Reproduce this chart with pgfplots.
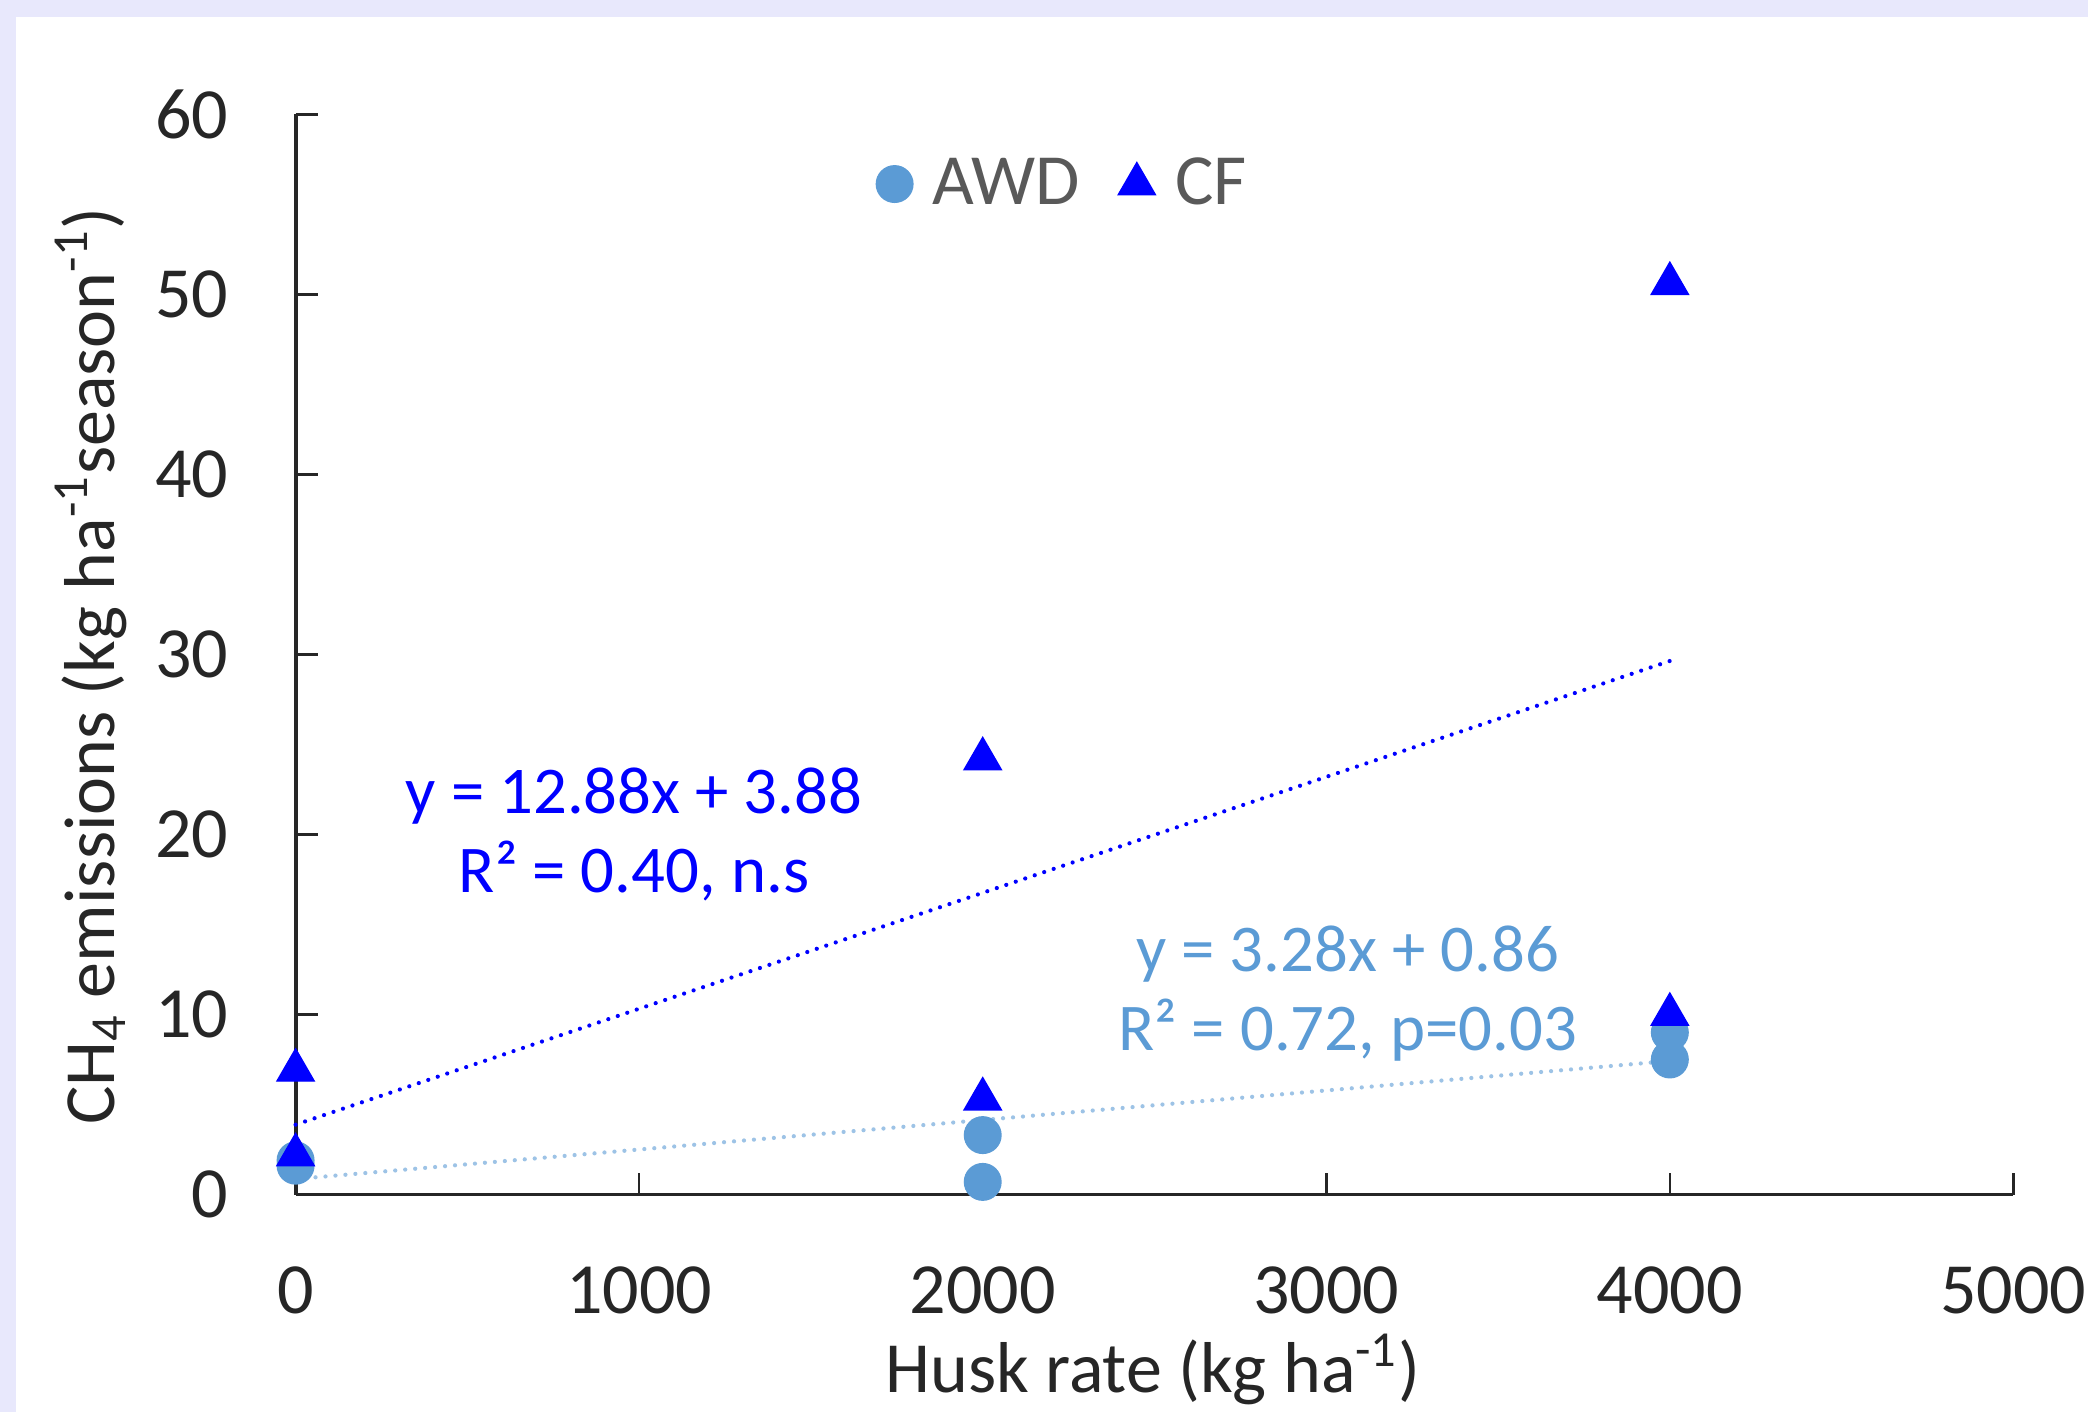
\documentclass[border=0pt]{standalone}
\usepackage{pgfplots}
\pgfplotsset{compat=1.18}
\usepackage{fontspec}
\setmainfont{Carlito}

\definecolor{awd}{HTML}{5B9BD5}
\definecolor{awdtrend}{HTML}{9DC3E6}
\definecolor{cf}{HTML}{0000FF}
\definecolor{panel}{HTML}{E8E8FC}
\definecolor{txt}{HTML}{262626}
\definecolor{legtxt}{HTML}{595959}

\begin{document}
\begin{tikzpicture}
% page background and white plot panel
\path[use as bounding box, fill=panel] (-2.956,-2.175) rectangle (17.924,11.945);
\fill[white] (-2.796,-2.175) rectangle (17.924,11.775);

\begin{axis}[
    at={(0,0)}, anchor=south west,
    scale only axis,
    width=17.178cm, height=10.8cm,
    xmin=0, xmax=5000,
    ymin=0, ymax=60,
    axis x line*=bottom,
    axis y line*=left,
    axis line style={txt, line width=1.1pt},
    xtick={0,1000,2000,3000,4000,5000},
    ytick={0,10,20,30,40,50,60},
    tick align=inside,
    major tick length=0.22cm,
    tick style={txt, line width=0.7pt},
    scaled ticks=false,
    /pgf/number format/1000 sep={},
    /pgf/number format/assume math mode=true,
    tick label style={font=\fontsize{20.5}{24}\selectfont, text=txt},
    xticklabel style={yshift=-0.6cm},
    yticklabel style={xshift=-0.55cm},
    xlabel={Husk rate (kg ha\textsuperscript{-1})},
    ylabel={CH\textsubscript{4} emissions (kg ha\textsuperscript{-1}season\textsuperscript{-1})},
    label style={font=\fontsize{20.5}{24}\selectfont, text=txt},
    xlabel style={at={(axis description cs:0.499,-0.162)}, anchor=center},
    ylabel style={at={(axis description cs:-0.119,0.489)}, anchor=center},
    legend style={
        at={(axis description cs:0.448,0.9356)}, anchor=center,
        draw=none, fill=none,
        font=\fontsize{20.5}{24}\selectfont, text=legtxt,
        legend columns=2,
        /tikz/every odd column/.append style={column sep=0.13cm},
        /tikz/every even column/.append style={column sep=0.31cm},
    },
    clip=false,
]

% AWD observations
\addplot[only marks, mark=*, mark size=5.2pt, color=awd, mark options={draw=awd, fill=awd}]
    coordinates {(0,1.6)(0,1.9)(2000,3.3)(2000,0.7)(4000,9.0)(4000,7.5)};
\addlegendentry{AWD}

% CF observations
\addplot[only marks, mark=triangle*, mark size=6.1pt, color=cf, mark options={draw=cf, fill=cf}]
    coordinates {(0,6.9)(0,2.2)(2000,24.2)(2000,5.3)(4000,50.6)(4000,10.0)};
\addlegendentry{CF}

% linear trend lines
\addplot[color=awdtrend, line width=1.2pt, line cap=round, dash pattern=on 0pt off 0.1cm, forget plot]
    coordinates {(0,0.86)(4000,7.42)};
\addplot[color=cf, line width=1.2pt, line cap=round, dash pattern=on 0pt off 0.1cm, forget plot]
    coordinates {(0,3.88)(4000,29.64)};

\node[text=cf, align=center, font=\fontsize{19}{22.3}\selectfont]
    at (axis cs:985,20.0) {y = 12.88x + 3.88\\R² = 0.40, n.s};
\node[text=awd, align=center, font=\fontsize{19}{22.3}\selectfont]
    at (axis cs:3062,11.17) {y = 3.28x + 0.86\\R² = 0.72, p=0.03};
\end{axis}
\end{tikzpicture}
\end{document}
